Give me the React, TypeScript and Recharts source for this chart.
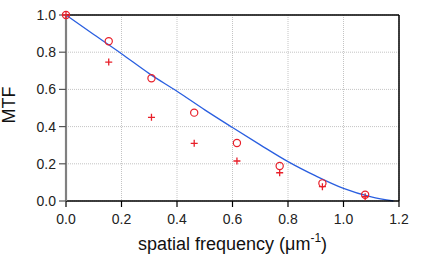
import React from "react";
import {
  CartesianGrid,
  ComposedChart,
  Line,
  ReferenceLine,
  Scatter,
  XAxis,
  YAxis,
} from "recharts";

// measured MTF points (spatial frequency in 1/um)
const sampleFreq = [0, 0.154, 0.308, 0.462, 0.616, 0.77, 0.924, 1.078];
const circleMtf = [1.0, 0.859, 0.66, 0.475, 0.312, 0.188, 0.095, 0.034];
const crossMtf = [1.0, 0.747, 0.45, 0.31, 0.215, 0.152, 0.077, 0.023];

// theoretical curve
const curveFreq = [0, 0.1, 0.2, 0.3, 0.4, 0.5, 0.6, 0.7, 0.8, 0.9, 1.0, 1.1, 1.18];
const curveMtf = [1.0, 0.895, 0.792, 0.685, 0.59, 0.49, 0.395, 0.302, 0.212, 0.135, 0.068, 0.022, 0];

const xTicks = [0, 0.2, 0.4, 0.6, 0.8, 1.0, 1.2];
const yTicks = [0, 0.2, 0.4, 0.6, 0.8, 1.0];

const RED = "#e8202a";
const BLUE = "#2a5fe0";
const FONT = "'Liberation Sans', Arial, sans-serif";

const curveData = curveFreq.map((x, i) => ({ x, y: curveMtf[i] }));
const circleData = sampleFreq.map((x, i) => ({ x, y: circleMtf[i] }));
const crossData = sampleFreq.map((x, i) => ({ x, y: crossMtf[i] }));

const CircleMark = (p: any) => (
  <circle cx={p.cx} cy={p.cy} r={3.6} fill="none" stroke={RED} strokeWidth={1.2} />
);

const CrossMark = (p: any) => (
  <path
    d={`M${p.cx - 3.5},${p.cy}H${p.cx + 3.5}M${p.cx},${p.cy - 3.5}V${p.cy + 3.5}`}
    stroke={RED}
    strokeWidth={1.3}
    fill="none"
  />
);

const XLabel = (props: any) => {
  const { x, y, width } = props.viewBox;
  return (
    <text x={x + width / 2} y={y + 49} textAnchor="middle" fontSize={18} fontFamily={FONT} fill="#111">
      spatial frequency (μm
      <tspan dy={-8} fontSize={12}>-1</tspan>
      <tspan dy={8}>)</tspan>
    </text>
  );
};

const YLabel = (props: any) => {
  const { y, height } = props.viewBox;
  const cy = y + height / 2 - 3;
  return (
    <text
      x={15}
      y={cy}
      transform={`rotate(-90 15 ${cy})`}
      textAnchor="middle"
      fontSize={18}
      fontFamily={FONT}
      fill="#111"
    >
      MTF
    </text>
  );
};

export default function App() {
  const tickStyle = { fontSize: 14, fontFamily: FONT, fill: "#222" };
  return (
    <div style={{ position: "absolute", left: 0, top: 0 }}>
      <ComposedChart width={436} height={257} margin={{ top: 15, right: 37, left: 0, bottom: 0 }}>
        <CartesianGrid stroke="#c4c4c4" strokeDasharray="1 1" />
        <XAxis
          type="number"
          dataKey="x"
          domain={[0, 1.2]}
          ticks={xTicks}
          tickFormatter={(v: number) => v.toFixed(1)}
          height={56}
          tick={tickStyle}
          tickSize={6}
          tickMargin={7}
          axisLine={{ stroke: "#000", strokeWidth: 1.5 }}
          tickLine={{ stroke: "#000", strokeWidth: 1.2 }}
          label={{ content: XLabel }}
        />
        <YAxis
          type="number"
          dataKey="y"
          domain={[0, 1]}
          ticks={yTicks}
          tickFormatter={(v: number) => v.toFixed(1)}
          width={66}
          tick={tickStyle}
          tickSize={7}
          tickMargin={3}
          axisLine={{ stroke: "#808080", strokeWidth: 2.2 }}
          tickLine={{ stroke: "#555", strokeWidth: 1.2 }}
          label={{ content: YLabel }}
        />
        <ReferenceLine y={1} stroke="#000" strokeWidth={1.5} />
        <ReferenceLine x={1.2} stroke="#000" strokeWidth={1.5} />
        <Line
          data={curveData}
          dataKey="y"
          type="monotone"
          stroke={BLUE}
          strokeWidth={1.3}
          dot={false}
          activeDot={false}
          isAnimationActive={false}
        />
        <Scatter data={crossData} dataKey="y" shape={CrossMark} isAnimationActive={false} />
        <Scatter data={circleData} dataKey="y" shape={CircleMark} isAnimationActive={false} />
      </ComposedChart>
    </div>
  );
}
